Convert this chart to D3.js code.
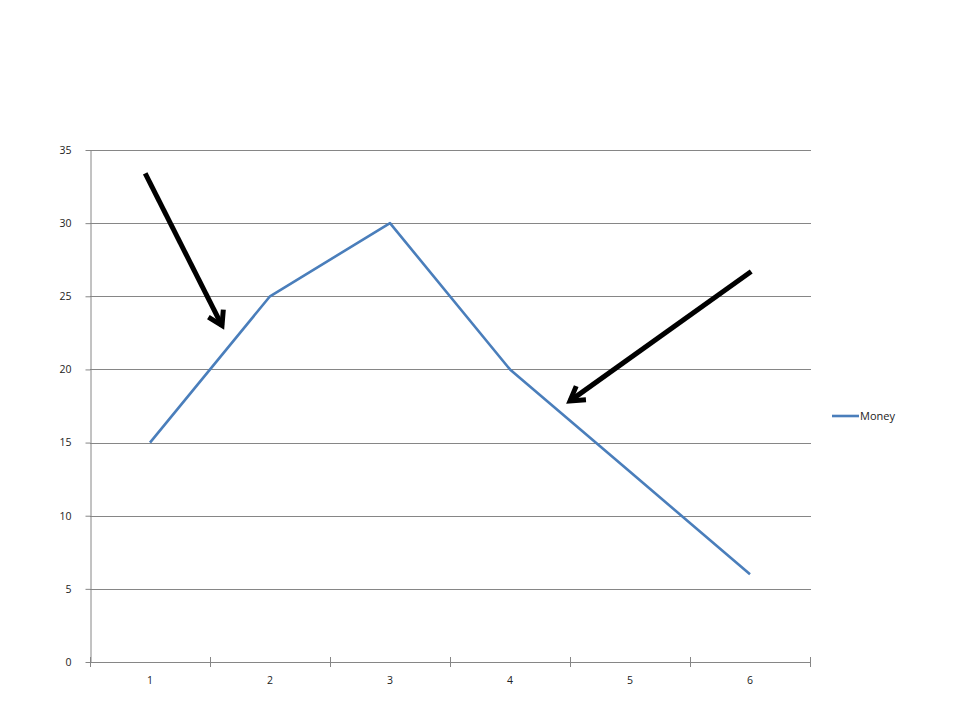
<!DOCTYPE html>
<html><head><meta charset="utf-8">
<script src="https://cdn.jsdelivr.net/npm/d3@7"></script>
<style>body{margin:0;background:#fff}svg{display:block}text{font-family:"Open Sans","Liberation Sans",sans-serif}</style>
</head><body>
<script>
const categories = ["1","2","3","4","5","6"];
const money = [15, 25, 30, 20, 13, 6];
const yTicks = [0,5,10,15,20,25,30,35];
const seriesName = "Money";
// annotation arrows in data units: [catIndexFrom, valueFrom, catIndexTo, valueTo]
const arrowFrom = [[-0.04, 33.4], [5.01, 26.7]];
const arrowTo = [[0.6, 23.0], [3.5, 17.85]];

const W = 960, H = 720;
const svg = d3.select("body").append("svg").attr("width", W).attr("height", H);
const x = d3.scaleBand().domain(categories).range([90, 810]);
const y = d3.scaleLinear().domain([0, 35]).range([662, 150]);
const xi = i => x.range()[0] + x.bandwidth() * (i + 0.5);

// gridlines
svg.append("g").selectAll("line").data(yTicks.filter(d => d > 0)).join("line")
  .attr("x1", 90).attr("x2", 811).attr("y1", d => Math.round(y(d)) + 0.5).attr("y2", d => Math.round(y(d)) + 0.5)
  .attr("stroke", "#868686").attr("stroke-width", 1);

// y axis
const ya = svg.append("g").attr("transform", "translate(90.5,0)")
  .call(d3.axisLeft(y).tickValues(yTicks).tickSize(5).tickSizeOuter(0).tickPadding(14));
ya.select(".domain").attr("stroke", "#868686");
ya.selectAll(".tick line").attr("stroke", "#868686");
ya.selectAll("text").attr("font-size", 10.5).attr("fill", "#222");

// x axis
const xa = svg.append("g").attr("transform", "translate(0,662.5)")
  .call(d3.axisBottom(x).tickSize(0).tickPadding(14));
xa.select(".domain").attr("stroke", "#868686").attr("d", "M90,0H811");
xa.selectAll("text").attr("font-size", 10.5).attr("fill", "#222");
svg.append("g").selectAll("line").data(d3.range(categories.length + 1)).join("line")
  .attr("x1", i => Math.round(90 + x.bandwidth() * i) + 0.5).attr("x2", i => Math.round(90 + x.bandwidth() * i) + 0.5)
  .attr("y1", 657).attr("y2", 667).attr("stroke", "#868686");

// line
const line = d3.line().x((d, i) => x(categories[i]) + x.bandwidth() / 2).y(d => y(d));
svg.append("path").datum(money).attr("d", line).attr("fill", "none")
  .attr("stroke", "#4a7ebb").attr("stroke-width", 2.6).attr("stroke-linejoin", "round");

// arrows
arrowFrom.forEach((f, k) => {
  const t = arrowTo[k];
  const x1 = xi(f[0]), y1 = y(f[1]), x2 = xi(t[0]), y2 = y(t[1]);
  const ang = Math.atan2(y2 - y1, x2 - x1);
  const L = 16, a = 0.55;
  svg.append("line").attr("x1", x1).attr("y1", y1).attr("x2", x2).attr("y2", y2)
    .attr("stroke", "#000").attr("stroke-width", 5);
  const p = [[x2 - L * Math.cos(ang - a), y2 - L * Math.sin(ang - a)], [x2, y2], [x2 - L * Math.cos(ang + a), y2 - L * Math.sin(ang + a)]];
  svg.append("path").attr("d", d3.line()(p)).attr("fill", "none").attr("stroke", "#000")
    .attr("stroke-width", 5).attr("stroke-linejoin", "miter").attr("stroke-linecap", "butt");
});

// legend
const lg = svg.append("g").attr("transform", "translate(832,416)");
lg.append("line").attr("x1", 0).attr("x2", 27).attr("y1", 0).attr("y2", 0).attr("stroke", "#4a7ebb").attr("stroke-width", 2.6);
lg.append("text").attr("x", 28).attr("y", 4).attr("font-size", 11).attr("fill", "#222").text(seriesName);
</script>
</body></html>
